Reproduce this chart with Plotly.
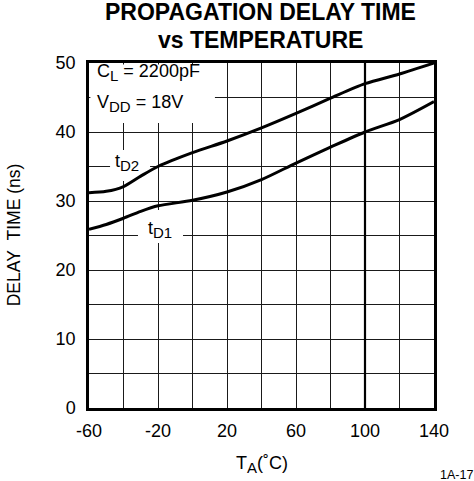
import plotly.graph_objects as go

FONT = "Liberation Sans, Arial, sans-serif"

# data
temperature = [-60, -50, -40, -30, -20, 0, 20, 40, 60, 80, 100, 120, 140]
delay_td2 = [31.2, 31.4, 32.1, 33.6, 35.0, 37.0, 38.7, 40.6, 42.7, 44.9, 47.0, 48.4, 50.0]
delay_td1 = [25.9, 26.6, 27.5, 28.5, 29.3, 30.1, 31.3, 33.1, 35.5, 37.8, 40.0, 41.8, 44.4]

x_ticks = [-60, -20, 20, 60, 100, 140]
x_labels = ["-60", "-20", "20", "60", "100", "140"]
y_ticks = [0, 10, 20, 30, 40, 50]


def _sub(text):
    # subscripts in the datasheet are almost full size
    return "<sub><span style='font-size:15px'>" + text + "</span></sub>"


def _blank(fig, x0, x1, y0, y1):
    # white patch that hides the grid behind a label, curves stay on top
    fig.add_shape(type="rect", x0=x0, x1=x1, y0=y0, y1=y1,
                  fillcolor="white", line={"width": 0}, layer="between")


def delay_figure():
    fig = go.Figure()
    for values in (delay_td2, delay_td1):
        fig.add_trace(go.Scatter(x=temperature, y=values, mode="lines",
                                 line={"color": "black", "width": 3,
                                       "shape": "spline", "smoothing": 0.8},
                                 showlegend=False, hoverinfo="skip"))

    grid = {"showgrid": True, "gridcolor": "#1a1a1a", "gridwidth": 1.2,
            "showline": True, "linecolor": "black", "linewidth": 2.5,
            "mirror": True, "zeroline": False, "ticks": "",
            "tickfont": {"family": FONT, "size": 18, "color": "black"}}
    fig.update_xaxes(range=[-60, 140], tickvals=x_ticks, ticktext=x_labels,
                     minor={"dtick": 20, "tick0": -60, "showgrid": True,
                            "gridcolor": "#1a1a1a", "gridwidth": 1.2},
                     ticklabelstandoff=5, **grid)
    fig.update_yaxes(range=[0, 50], tickvals=y_ticks,
                     minor={"dtick": 5, "tick0": 0, "showgrid": True,
                            "gridcolor": "#1a1a1a", "gridwidth": 1.2},
                     ticklabelstandoff=7, **grid)

    # heavier line at 100 C
    fig.add_shape(type="line", x0=100, x1=100, y0=0, y1=50,
                  line={"color": "black", "width": 2.2}, layer="between")

    _blank(fig, -59.2, 13.0, 41.3, 49.8)
    _blank(fig, -47.8, -24.6, 32.9, 37.4)
    _blank(fig, -31.6, -5.5, 23.9, 28.7)

    label_font = {"family": FONT, "size": 18, "color": "black"}
    fig.add_annotation(x=-56.5, y=48.6, xanchor="left", yanchor="middle",
                       text="C" + _sub("L") + " = 2200pF", showarrow=False,
                       font=label_font)
    fig.add_annotation(x=-56.5, y=44.2, xanchor="left", yanchor="middle",
                       text="V" + _sub("DD") + " = 18V", showarrow=False,
                       font=label_font)
    fig.add_annotation(x=-38, y=35.6, text="t" + _sub("D2"),
                       showarrow=False, font=label_font)
    fig.add_annotation(x=-18.8, y=25.9, text="t" + _sub("D1"),
                       showarrow=False, font=label_font)

    # title, axis titles and figure number
    title_font = {"family": FONT, "size": 23, "color": "black"}
    fig.add_annotation(xref="paper", yref="paper", x=0.496, y=1.148,
                       xanchor="center", yanchor="middle",
                       text="<b>PROPAGATION DELAY TIME</b>", showarrow=False,
                       font=title_font)
    fig.add_annotation(xref="paper", yref="paper", x=0.496, y=1.067,
                       xanchor="center", yanchor="middle",
                       text="<b>vs TEMPERATURE</b>", showarrow=False,
                       font=title_font)
    fig.add_annotation(xref="paper", yref="paper", x=0.5, y=-0.165,
                       xanchor="center", yanchor="middle",
                       text="T" + _sub("A") + "(˚C)", showarrow=False,
                       font=label_font)
    fig.add_annotation(xref="paper", yref="paper", x=-0.217, y=0.501,
                       xanchor="center", yanchor="middle", textangle=-90,
                       text="DELAY\u00a0\u00a0TIME (ns)", showarrow=False,
                       font={"family": FONT, "size": 17.5, "color": "black"})
    fig.add_annotation(xref="paper", yref="paper", x=1.064, y=-0.194,
                       xanchor="center", yanchor="middle", text="1A-17",
                       showarrow=False,
                       font={"family": FONT, "size": 12.5, "color": "black"})

    fig.update_layout(
        width=474, height=481,
        margin={"l": 89, "r": 40, "t": 63, "b": 73},
        paper_bgcolor="white", plot_bgcolor="white",
    )
    return fig


if __name__ == "__main__":
    figure = delay_figure()
    # drop the browser's default page margin so the figure sits at 0,0
    figure.write_html("out.html", config={"displayModeBar": False},
                      post_script="document.body.style.margin='0';")
